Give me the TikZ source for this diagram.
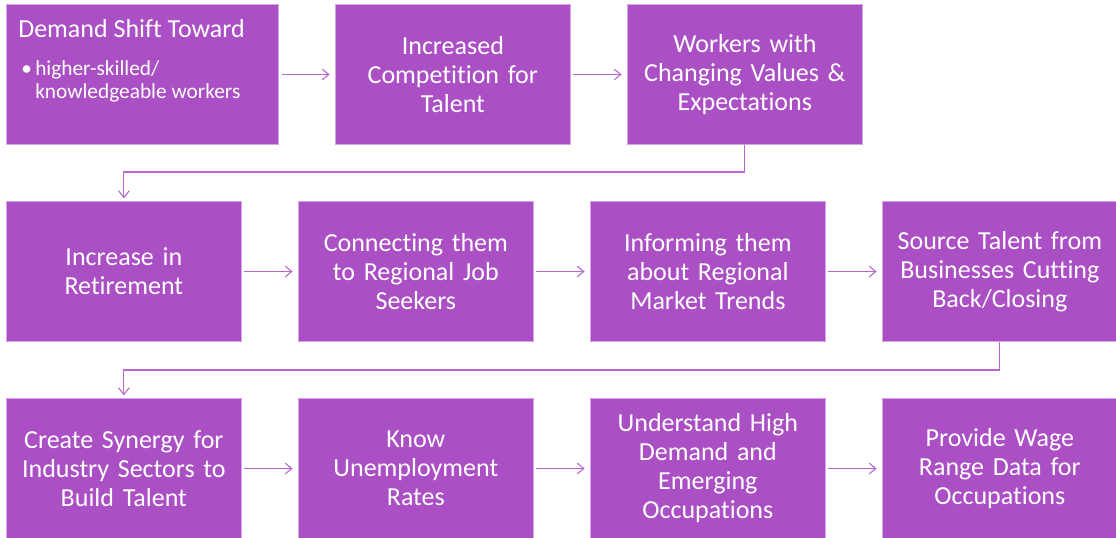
\documentclass[tikz,border=0pt]{standalone}
\usepackage{fontspec}
\setmainfont[Ligatures=NoCommon]{Carlito}
\usepackage[HTML]{xcolor}
\usetikzlibrary{positioning, arrows.meta}

\definecolor{boxfill}{HTML}{AB4FC4}
\definecolor{boxline}{HTML}{D7A4E4}
\definecolor{linkcol}{HTML}{B865CF}

\tikzset{
  box/.style={draw=boxline, fill=boxfill, line width=0.75pt, text=white,
    anchor=north west, align=center, text width=172pt, inner sep=0pt,
    minimum width=176pt, minimum height=105pt,
    font=\fontsize{19.5}{21.75}\selectfont},
  boxtext/.style={text=white, align=left, inner sep=0pt, anchor=base west},
  link/.style={draw=linkcol, line width=0.8pt,
    -{Straight Barb[length=5pt,width=8pt]}}
}

\begin{document}
\begin{tikzpicture}[x=0.75pt, y=-0.75pt]
\useasboundingbox (0,0) rectangle (1116,537);

% Row 1
\node[box, minimum width=204pt] (demand) at (6,4) {};
\node[boxtext, font=\fontsize{19.5}{21.75}\selectfont] (demandtitle) at (18,37) {Demand Shift Toward};
\node[boxtext, font=\fontsize{16}{17.25}\selectfont] (demandlist) at (21,98)
  {\makebox[10.5pt][l]{\textbullet}higher-skilled/\\
   \hspace*{10.5pt}knowledgeable workers};
\node[box] (compete) at (335,4) {Increased\\Competition for\\Talent};
\node[box] (values) at (627,4) {Workers with\\Changing Values \&\\Expectations};

% Row 2
\node[box] (retire) at (6,201) {Increase in\\Retirement};
\node[box] (connect) at (298,201) {Connecting them\\to Regional Job\\Seekers};
\node[box] (inform) at (590,201) {Informing them\\about Regional\\Market Trends};
\node[box] (source) at (882,201) {Source Talent from\\Businesses Cutting\\Back/Closing};

% Row 3
\node[box] (synergy) at (6,398) {Create Synergy for\\Industry Sectors to\\Build Talent};
\node[box] (unemploy) at (298,398) {Know\\Unemployment\\Rates};
\node[box] (demandocc) at (590,398) {Understand High\\Demand and\\Emerging\\Occupations};
\node[box] (wage) at (882,398) {Provide Wage\\Range Data for\\Occupations};

% Arrows
\draw[link, shorten <=2pt, shorten >=4pt] (demand.east) -- (compete.west);
\draw[link, shorten <=2pt, shorten >=4pt] (compete.east) -- (values.west);
\draw[link, shorten >=2pt] (values.south) -- ++(0,27) -| (retire.north);
\draw[link, shorten <=2pt, shorten >=4pt] (retire.east) -- (connect.west);
\draw[link, shorten <=2pt, shorten >=4pt] (connect.east) -- (inform.west);
\draw[link, shorten <=2pt, shorten >=4pt] (inform.east) -- (source.west);
\draw[link, shorten >=2pt] (source.south) -- ++(0,28) -| (synergy.north);
\draw[link, shorten <=2pt, shorten >=4pt] (synergy.east) -- (unemploy.west);
\draw[link, shorten <=2pt, shorten >=4pt] (unemploy.east) -- (demandocc.west);
\draw[link, shorten <=2pt, shorten >=4pt] (demandocc.east) -- (wage.west);

\end{tikzpicture}
\end{document}
